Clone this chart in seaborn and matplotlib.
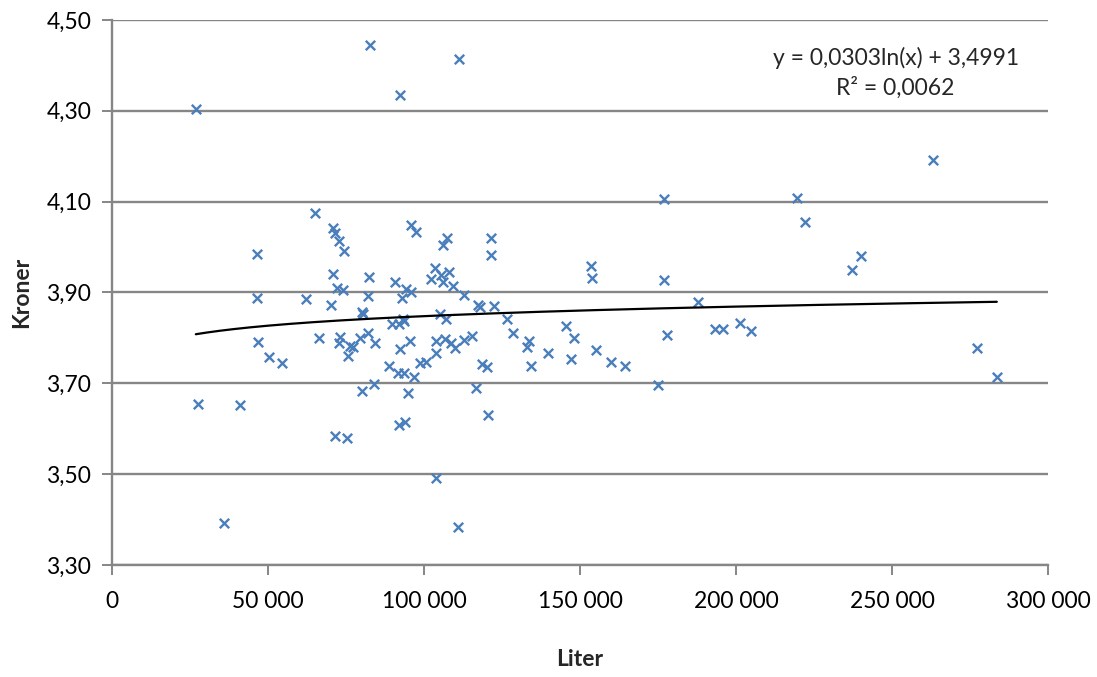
import numpy as np
import pandas as pd
import matplotlib
matplotlib.use("Agg")
import matplotlib.pyplot as plt
from matplotlib.ticker import FuncFormatter
import seaborn as sns

# Volume sold (liter) and price (kroner per liter)
liter = [
    26860, 27500, 35840, 41080, 46530, 46430, 46950, 50480, 54460,
    62250, 64980, 66430, 70180, 70690, 71340, 70820, 71340, 72110, 72840,
    72940, 72620, 73900, 74290, 75310, 75640, 76370, 77170,
    79580, 80060, 80390, 80220, 82050, 82470, 82050, 82790, 84170, 84080,
    88660, 89760, 90720, 91940, 91680, 92420, 92260, 92100, 92970, 93160,
    93480, 93930, 94250, 93700, 94890, 95400, 95850, 95950, 96690, 97300,
    98840, 100500,
    102200, 103600, 103700, 103700, 104000, 105100, 105400, 106100, 106100,
    106800, 107200, 107500, 107900, 108600, 109900, 109300, 110800, 111100,
    112700, 112900, 115400,
    116600, 117200, 117800, 118700, 120200, 120600, 121600, 121600, 122600,
    126600, 128500, 132900, 133600, 134200, 139800,
    145600, 147200, 148000, 153500, 153700, 155200, 160000, 164300, 175100,
    176900, 176900, 177800, 187900, 193300, 195700, 201200, 204700, 219600,
    222100, 237200, 240100, 263200, 277300, 283600,
]
kroner = [
    4.304, 3.654, 3.393, 3.653, 3.985, 3.888, 3.792, 3.759, 3.744,
    3.885, 4.076, 3.799, 3.873, 4.041, 4.032, 3.941, 3.583, 3.909, 4.013,
    3.801, 3.788, 3.906, 3.991, 3.580, 3.760, 3.782, 3.780,
    3.800, 3.858, 3.853, 3.683, 3.893, 3.934, 3.811, 4.445, 3.788, 3.698,
    3.739, 3.831, 3.923, 3.830, 3.723, 4.335, 3.775, 3.608, 3.888, 3.842,
    3.722, 3.615, 3.908, 3.838, 3.679, 3.794, 4.049, 3.900, 3.713, 4.033,
    3.744, 3.747,
    3.930, 3.953, 3.491, 3.766, 3.793, 3.853, 3.939, 4.005, 3.923,
    3.797, 3.842, 4.019, 3.945, 3.789, 3.778, 3.915, 3.383, 4.414,
    3.895, 3.795, 3.805,
    3.689, 3.872, 3.868, 3.743, 3.737, 3.631, 4.019, 3.983, 3.871,
    3.842, 3.811, 3.781, 3.793, 3.739, 3.766,
    3.827, 3.754, 3.800, 3.958, 3.933, 3.774, 3.746, 3.739, 3.697,
    4.105, 3.928, 3.807, 3.879, 3.820, 3.820, 3.833, 3.816, 4.109,
    4.055, 3.950, 3.980, 4.191, 3.777, 3.713,
]

# Logarithmic trend line coefficients and fit quality
trend_slope = 0.0303
trend_intercept = 3.4991
r_squared = 0.0062

x_ticks = [0, 50000, 100000, 150000, 200000, 250000, 300000]
y_ticks = [3.30, 3.50, 3.70, 3.90, 4.10, 4.30, 4.50]

df = pd.DataFrame({"Liter": liter, "Kroner": kroner})
x_fit = np.linspace(min(liter), max(liter), 300)
trend = pd.DataFrame({"Liter": x_fit,
                      "Kroner": trend_slope * np.log(x_fit) + trend_intercept})

sns.set_theme(style="white")
plt.rcParams["font.family"] = ["Lato", "DejaVu Sans"]

fig = plt.figure(figsize=(10.97, 6.77), dpi=100)
ax = fig.add_axes([0.1021, 0.1654, 0.8532, 0.8051])

grid_color = "#868686"
for y in y_ticks:
    ax.axhline(y, color=grid_color, linewidth=1.7, zorder=0)

sns.scatterplot(data=df, x="Liter", y="Kroner", marker="x", color="#4a7ebb",
                s=46, linewidth=1.7, ax=ax, zorder=3)
sns.lineplot(data=trend, x="Liter", y="Kroner", color="black", linewidth=1.6,
             ax=ax, zorder=4)

ax.set_xlim(x_ticks[0], x_ticks[-1])
ax.set_ylim(y_ticks[0], y_ticks[-1])
ax.set_xticks(x_ticks)
ax.set_yticks(y_ticks)

ax.xaxis.set_major_formatter(FuncFormatter(
    lambda v, _: f"{int(round(v)):,}".replace(",", " ")))
ax.yaxis.set_major_formatter(FuncFormatter(
    lambda v, _: f"{v:.2f}".replace(".", ",")))

for side in ("top", "right"):
    ax.spines[side].set_visible(False)
for side in ("left", "bottom"):
    ax.spines[side].set_color(grid_color)
    ax.spines[side].set_linewidth(1.7)

ax.tick_params(axis="both", which="major", direction="out", length=7,
               width=1.4, color=grid_color, labelsize=16.5, labelcolor="black",
               left=True, bottom=True)
ax.tick_params(axis="x", pad=12)
ax.tick_params(axis="y", pad=8)

ax.set_xlabel("Liter", fontsize=16.5, fontweight="bold", labelpad=26)
ax.set_ylabel("Kroner", fontsize=16.5, fontweight="bold", labelpad=10)

eq = (f"y = {trend_slope:.4f}ln(x) + {trend_intercept:.4f}".replace(".", ",")
      + "\n" + f"R² = {r_squared:.4f}".replace(".", ","))
ax.text(0.8373, 0.903, eq, transform=ax.transAxes, ha="center", va="center",
        fontsize=16.5, linespacing=1.45)

fig.savefig("out.png", dpi=100)
